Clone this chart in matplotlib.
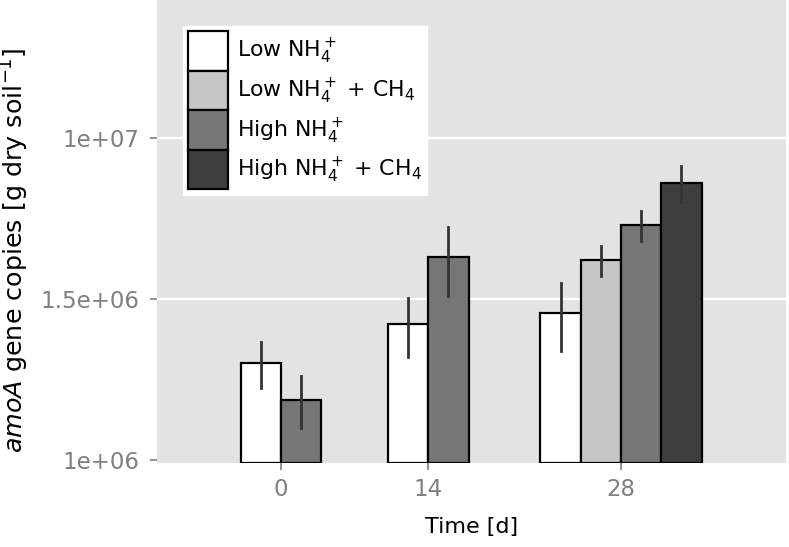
import numpy as np
import matplotlib
matplotlib.use("Agg")
from matplotlib import pyplot as plt

# Data (gene copies per g dry soil)
days = ["0", "14", "28"]
treatments = [r"Low NH$_4^+$", r"Low NH$_4^+$ + CH$_4$",
              r"High NH$_4^+$", r"High NH$_4^+$ + CH$_4$"]
low_nh4 = [2.00e6, 2.64e6, 2.86e6]
low_nh4_ch4 = [np.nan, np.nan, 4.17e6]
high_nh4 = [1.54e6, 4.26e6, 5.36e6]
high_nh4_ch4 = [np.nan, np.nan, 7.27e6]
low_nh4_se = [0.33e6, 0.55e6, 0.68e6]
low_nh4_ch4_se = [np.nan, np.nan, 0.445e6]
high_nh4_se = [0.28e6, 1.03e6, 0.56e6]
high_nh4_ch4_se = [np.nan, np.nan, 0.93e6]
y_ticks = [1e6, 10 ** 6.5, 1e7]
y_tick_labels = ["1e+06", "1.5e+06", "1e+07"]

means = [low_nh4, low_nh4_ch4, high_nh4, high_nh4_ch4]
errors = [low_nh4_se, low_nh4_ch4_se, high_nh4_se, high_nh4_ch4_se]
fills = ["#ffffff", "#c6c6c6", "#767676", "#3e3e3e"]

# Layout (bar width = 1 unit)
group_centers = [0, 3.655, 8.44]
width = 1.0
y_lo, y_hi = 0.979e6, 2.68e7

fig = plt.figure(figsize=(7.89, 5.47), dpi=100)
ax = fig.add_axes([0.199, 0.1536, 0.797, 0.8464])
ax.set_facecolor("#e3e3e3")
ax.set_yscale("log")
ax.set_ylim(y_lo, y_hi)
ax.set_xlim(-3.077, 12.53)

# white grid lines (the one at the bottom is hidden in the original)
for yt in y_ticks[1:]:
    ax.axhline(yt, color="white", lw=1.6, zorder=0)

# Dodge bars inside each day, only for treatments that were measured
for d in range(len(days)):
    present = [t for t in range(len(treatments)) if not np.isnan(means[t][d])]
    n = len(present)
    for k, t in enumerate(present):
        x = group_centers[d] + (k - (n - 1) / 2) * width
        ax.bar(x, means[t][d] - y_lo, bottom=y_lo, width=width,
               color=fills[t], edgecolor="black", lw=1.6, zorder=2)
        ax.plot([x, x], [means[t][d] - errors[t][d], means[t][d] + errors[t][d]],
                color="#333333", lw=2, zorder=3)

handles = [plt.Rectangle((0, 0), 1, 1, facecolor=fills[t], edgecolor="black", lw=1.6)
           for t in range(len(treatments))]

ax.set_xticks(group_centers)
ax.set_xticklabels(days)
ax.set_yticks(y_ticks)
ax.set_yticklabels(y_tick_labels)
ax.minorticks_off()
ax.tick_params(axis="both", colors="#7f7f7f", labelsize=16.5, length=5, width=1.2)
ax.tick_params(axis="y", pad=8)
ax.tick_params(axis="x", pad=6)
for s in ax.spines.values():
    s.set_visible(False)

ax.set_xlabel("Time [d]", fontsize=16, color="black", labelpad=11)
ax.set_ylabel(r"$\mathit{amoA}$ gene copies [g dry soil$^{-1}$]",
              fontsize=18.3, color="black")
ax.yaxis.set_label_coords(-0.200, 0.46)

leg = ax.legend(handles, treatments, loc="upper left",
                bbox_to_anchor=(183 / 789, 1 - 26 / 547),
                bbox_transform=fig.transFigure, borderaxespad=0,
                fontsize=15.8, handlelength=1.83, handleheight=2.40,
                labelspacing=0, handletextpad=0.41, borderpad=0.23,
                frameon=True, fancybox=False, framealpha=1,
                facecolor="white", edgecolor="white")

fig.savefig("out.png", dpi=100)
